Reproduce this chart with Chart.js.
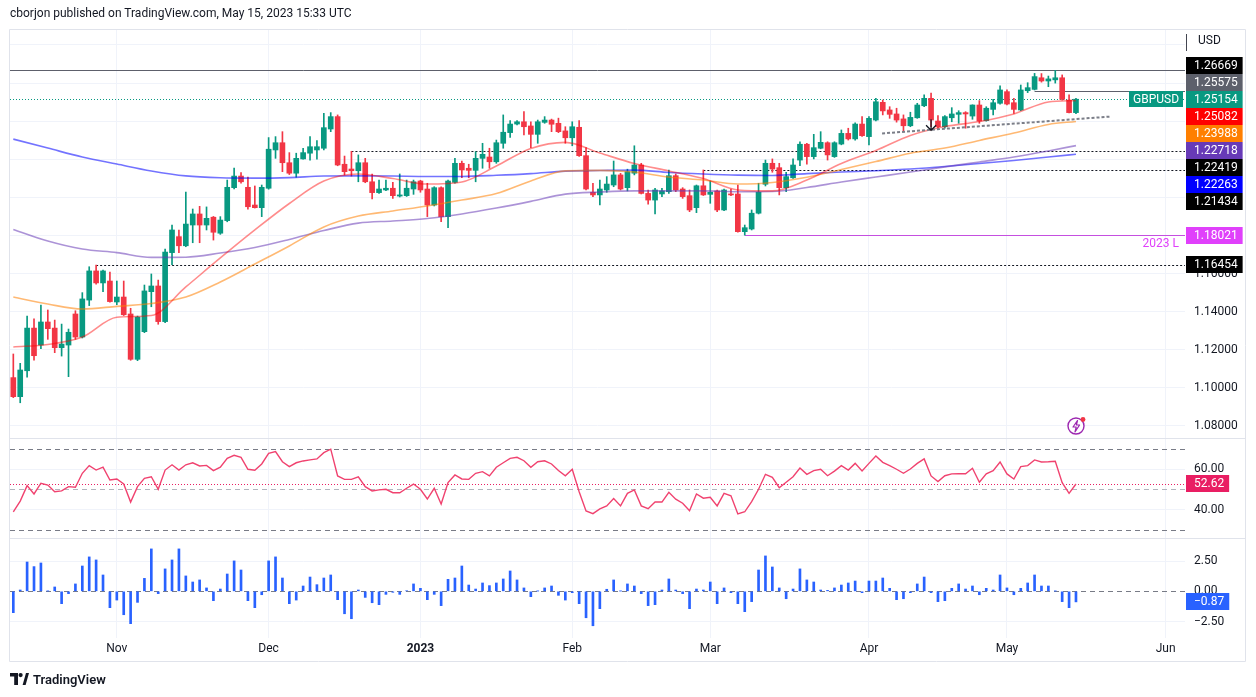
<!DOCTYPE html>
<html><head><meta charset="utf-8">
<script src="https://cdn.jsdelivr.net/npm/chart.js@4.4.1/dist/chart.umd.min.js"></script>
<style>
html,body{margin:0;padding:0;background:#fff;}
#wrap{position:relative;width:1256px;height:697px;overflow:hidden;font-family:Roboto,"Liberation Sans",Arial,sans-serif;}
#c{position:absolute;left:0;top:0;}
#hdr{position:absolute;left:10px;top:6px;font-size:12px;color:#131722;white-space:nowrap;}
#ftr{position:absolute;left:10px;top:671px;height:16px;display:flex;align-items:center;font-size:13px;font-weight:600;color:#131722;}
#ftr svg{margin-right:4px;}
#bolt{position:absolute;left:1066px;top:415px;}
</style></head><body>
<div id="wrap">
<canvas id="c" width="1256" height="697"></canvas>
<div id="hdr">cborjon published on TradingView.com, May 15, 2023 15:33 UTC</div>
<div id="ftr"><svg width="19" height="12" viewBox="0 0 19 12"><path d="M0 0H8V12H4.2V3.6H0Z" fill="#131722"/><circle cx="10.6" cy="2.1" r="2.1" fill="#131722"/><path d="M12.6 12L16 0H19L15.6 12Z" fill="#131722"/></svg>TradingView</div>
<svg id="bolt" width="22" height="22" viewBox="0 0 22 22"><circle cx="10" cy="11" r="8" fill="#fff" stroke="#9C27B0" stroke-width="1.4"/><path d="M11.5 5.5L7 12H10.2L9 16.8L13.6 10H10.4Z" fill="none" stroke="#9C27B0" stroke-width="1.2" stroke-linejoin="round"/><circle cx="17" cy="4.5" r="2.4" fill="#F23645"/></svg>
</div>
<script>
// ---------- DATA ----------
const monthLabels = ['Nov','Dec','2023','Feb','Mar','Apr','May','Jun'];
const monthIdx = [15,37,59,81,101,124,144,167];

const opens = [1.1054,1.0954,1.1090,1.1314,1.1225,1.1346,1.1314,1.1211,1.1225,1.1388,
1.1267,1.1461,1.1614,1.1551,1.1561,1.1451,1.1477,1.1388,1.1150,1.1295,
1.1505,1.1535,1.1348,1.1710,1.1794,1.1746,1.1855,1.1913,1.1855,1.1896,
1.1812,1.1878,1.2051,1.2112,1.2053,1.1960,1.1946,1.2048,1.2249,1.2287,
1.2182,1.2127,1.2202,1.2232,1.2249,1.2258,1.2359,1.2424,1.2174,1.2149,
1.2140,1.2182,1.2082,1.2025,1.2039,1.2048,1.2007,1.2009,1.2044,1.2086,
1.2044,1.1960,1.2051,1.1899,1.2079,1.2179,1.2153,1.2142,1.2205,1.2212,
1.2187,1.2284,1.2340,1.2385,1.2397,1.2375,1.2331,1.2394,1.2406,1.2389,
1.2349,1.2313,1.2368,1.2219,1.2027,1.2013,1.2039,1.2065,1.2118,1.2051,
1.2127,1.2170,1.2021,1.1986,1.2018,1.2030,1.2114,1.2044,1.2009,1.1946,
1.2061,1.2016,1.2034,1.1934,1.2018,1.2018,1.1820,1.1834,1.1917,1.2069,
1.2179,1.2156,1.2051,1.2103,1.2196,1.2279,1.2214,1.2258,1.2287,1.2214,
1.2280,1.2336,1.2307,1.2385,1.2319,1.2406,1.2499,1.2459,1.2438,1.2412,
1.2376,1.2418,1.2481,1.2520,1.2401,1.2371,1.2418,1.2436,1.2445,1.2427,
1.2485,1.2403,1.2462,1.2494,1.2555,1.2497,1.2459,1.2560,1.2567,1.2628,
1.2611,1.2617,1.2628,1.2511,1.2445];

const highs = [1.1178,1.1129,1.1377,1.1362,1.1435,1.1409,1.1356,1.1335,1.1309,1.1405,
1.1500,1.1636,1.1645,1.1619,1.1608,1.1561,1.1561,1.1418,1.1377,1.1540,
1.1598,1.1566,1.1729,1.1855,1.1829,1.2028,1.1939,1.1953,1.1950,1.1900,
1.1899,1.2091,1.2154,1.2130,1.2106,1.2060,1.2065,1.2314,1.2319,1.2345,
1.2235,1.2232,1.2258,1.2319,1.2298,1.2441,1.2445,1.2433,1.2217,1.2242,
1.2223,1.2205,1.2123,1.2091,1.2091,1.2079,1.2123,1.2091,1.2091,1.2090,
1.2074,1.2056,1.2056,1.2091,1.2205,1.2191,1.2174,1.2240,1.2284,1.2258,
1.2301,1.2433,1.2403,1.2403,1.2450,1.2397,1.2406,1.2424,1.2411,1.2416,
1.2371,1.2397,1.2403,1.2261,1.2074,1.2091,1.2109,1.2191,1.2126,1.2148,
1.2271,1.2179,1.2039,1.2048,1.2048,1.2144,1.2123,1.2051,1.2039,1.2065,
1.2144,1.2086,1.2039,1.2044,1.2044,1.2065,1.1855,1.1934,1.2074,1.2196,
1.2202,1.2179,1.2132,1.2202,1.2292,1.2284,1.2331,1.2345,1.2292,1.2292,
1.2354,1.2363,1.2392,1.2424,1.2424,1.2520,1.2511,1.2476,1.2468,1.2433,
1.2447,1.2494,1.2538,1.2547,1.2429,1.2429,1.2471,1.2455,1.2450,1.2486,
1.2508,1.2476,1.2515,1.2585,1.2564,1.2520,1.2590,1.2602,1.2651,1.2650,
1.2637,1.2667,1.2643,1.2538,1.2520];

const lows = [1.0949,1.0922,1.1056,1.1146,1.1206,1.1255,1.1185,1.1167,1.1059,1.1255,
1.1262,1.1432,1.1545,1.1505,1.1450,1.1437,1.1380,1.1145,1.1143,1.1290,
1.1426,1.1334,1.1342,1.1647,1.1710,1.1741,1.1762,1.1762,1.1829,1.1776,
1.1806,1.1872,1.2045,1.2075,1.1938,1.1944,1.1899,1.2043,1.2205,1.2135,
1.2120,1.2106,1.2200,1.2196,1.2200,1.2249,1.2345,1.2166,1.2118,1.2112,
1.2082,1.2077,1.1992,1.2021,1.2035,1.1995,1.2002,1.2005,1.2016,1.2027,
1.1899,1.1955,1.1872,1.1841,1.2075,1.2103,1.2103,1.2082,1.2153,1.2153,
1.2179,1.2258,1.2315,1.2380,1.2328,1.2261,1.2284,1.2389,1.2345,1.2340,
1.2284,1.2271,1.2215,1.2039,1.2004,1.1960,1.2027,1.2056,1.2039,1.2034,
1.2118,1.2018,1.1964,1.1913,1.2004,1.2021,1.2030,1.1995,1.1925,1.1920,
1.2010,1.1969,1.1925,1.1930,1.2009,1.1818,1.1802,1.1829,1.1913,1.2060,
1.2132,1.2013,1.2030,1.2100,1.2166,1.2175,1.2202,1.2255,1.2196,1.2210,
1.2276,1.2301,1.2301,1.2320,1.2275,1.2401,1.2433,1.2415,1.2395,1.2345,
1.2371,1.2415,1.2476,1.2371,1.2363,1.2363,1.2397,1.2389,1.2363,1.2410,
1.2389,1.2400,1.2433,1.2490,1.2485,1.2441,1.2455,1.2550,1.2564,1.2605,
1.2581,1.2600,1.2511,1.2443,1.2440];

const closes = [1.0954,1.1094,1.1314,1.1169,1.1346,1.1311,1.1211,1.1230,1.1292,1.1267,
1.1467,1.1614,1.1551,1.1614,1.1453,1.1477,1.1384,1.1150,1.1372,1.1509,
1.1535,1.1348,1.1713,1.1829,1.1746,1.1860,1.1913,1.1855,1.1890,1.1817,
1.1881,1.2053,1.2112,1.2082,1.1951,1.1946,1.2053,1.2253,1.2287,1.2182,
1.2127,1.2205,1.2235,1.2266,1.2266,1.2366,1.2424,1.2170,1.2135,1.2140,
1.2182,1.2082,1.2025,1.2044,1.2048,1.2009,1.2013,1.2048,1.2082,1.2039,
1.1960,1.2051,1.1899,1.2086,1.2179,1.2144,1.2142,1.2205,1.2226,1.2187,
1.2287,1.2342,1.2385,1.2397,1.2371,1.2331,1.2397,1.2406,1.2384,1.2345,
1.2313,1.2371,1.2219,1.2044,1.2013,1.2044,1.2070,1.2118,1.2044,1.2135,
1.2170,1.2021,1.1986,1.2039,1.2034,1.2114,1.2039,1.2004,1.1934,1.2061,
1.2013,1.2027,1.1934,1.2039,1.2013,1.1820,1.1841,1.1917,1.2027,1.2179,
1.2149,1.2051,1.2109,1.2170,1.2279,1.2214,1.2261,1.2289,1.2223,1.2287,
1.2336,1.2307,1.2385,1.2324,1.2415,1.2502,1.2454,1.2436,1.2406,1.2376,
1.2420,1.2485,1.2520,1.2406,1.2371,1.2424,1.2438,1.2445,1.2438,1.2485,
1.2401,1.2468,1.2497,1.2564,1.2490,1.2462,1.2564,1.2576,1.2634,1.2611,
1.2622,1.2628,1.2515,1.2445,1.25154];

// moving averages read at every 5th bar (and the last bar)
const maIdx = [0,5,10,15,20,25,30,35,40,45,50,55,60,65,70,75,80,85,90,95,100,105,110,115,120,125,130,135,140,145,150,154];
const ema20 = [1.1215,1.1228,1.1267,1.1371,1.1380,1.1530,1.1682,1.1829,1.1968,1.2086,1.2123,1.2099,1.2070,1.2081,1.2165,1.2257,1.2289,1.2233,1.2178,1.2139,1.2099,1.2039,1.2034,1.2091,1.2178,1.2246,1.2325,1.2372,1.2398,1.2438,1.2501,1.25082];
const ema50 = [1.1477,1.1440,1.1414,1.1428,1.1443,1.1477,1.1556,1.1650,1.1745,1.1845,1.1902,1.1929,1.1955,1.1986,1.2020,1.2086,1.2139,1.2142,1.2133,1.2107,1.2091,1.2070,1.2078,1.2106,1.2146,1.2188,1.2232,1.2259,1.2299,1.2338,1.2383,1.23988];
const ma100 = [1.1832,1.1771,1.1729,1.1710,1.1685,1.1686,1.1708,1.1737,1.1779,1.1826,1.1865,1.1876,1.1889,1.1913,1.1944,1.1979,1.2017,1.2028,1.2034,1.2034,1.2034,1.2030,1.2031,1.2052,1.2081,1.2107,1.2133,1.2160,1.2186,1.2212,1.2244,1.22718];
const ma200 = [1.2306,1.2259,1.2212,1.2175,1.2139,1.2113,1.2103,1.2101,1.2104,1.2112,1.2113,1.2112,1.2110,1.2110,1.2116,1.2125,1.2138,1.2141,1.2143,1.2131,1.2123,1.2117,1.2115,1.2125,1.2133,1.2140,1.2149,1.2162,1.2178,1.2194,1.2212,1.22263];

const rsi = [38.9,44.2,51.8,47.7,53.0,52.1,48.8,49.2,51.3,51.0,
57.9,61.7,59.5,60.9,54.6,55.1,52.6,43.7,51.3,55.4,
56.2,50.0,59.5,62.1,59.5,62.1,63.1,61.5,61.8,59.2,
60.9,65.3,66.8,65.8,59.9,59.4,62.5,67.8,68.6,63.6,
61.2,63.1,64.0,64.5,65.0,68.1,69.8,56.6,54.9,54.9,
56.2,51.3,49.2,49.7,50.0,48.3,48.3,50.5,52.6,50.0,
45.2,50.5,42.7,53.3,57.1,55.1,54.9,57.9,58.7,56.6,
60.9,63.1,65.3,65.8,64.1,60.9,63.6,64.1,62.5,59.3,
56.7,59.9,48.8,39.3,38.0,40.3,41.8,45.4,41.8,48.0,
49.7,41.8,40.4,43.7,43.7,48.5,45.1,43.1,39.4,47.7,
45.6,46.1,41.8,48.0,46.8,37.8,38.9,43.9,50.0,57.4,
55.9,50.8,53.5,56.2,60.5,57.4,59.2,59.9,56.7,59.0,
61.7,59.5,62.8,59.0,62.8,66.4,63.3,61.7,59.9,57.9,
60.0,62.8,65.0,56.6,53.8,56.7,57.6,57.7,57.7,60.4,
53.5,57.6,59.2,63.5,57.6,55.1,61.2,61.7,64.5,63.5,
63.6,63.8,53.3,48.0,52.62];

const hist = [-1.76,0.11,2.42,2.04,2.34,0.02,0.36,-1.02,-0.19,0.61,
2.09,2.84,2.59,1.35,-1.35,-0.72,-1.93,-2.67,-0.91,1.07,
3.50,-0.19,1.85,2.59,3.50,1.27,0.77,0.94,0.28,-0.77,
0.19,1.43,2.51,1.76,-0.77,-1.35,-0.28,2.51,2.84,1.10,
-1.02,-0.72,0.44,1.18,0.55,1.10,1.35,-0.69,-1.85,-2.26,
0.11,-0.50,-0.94,-1.10,-0.25,-0.08,-0.25,0.05,0.61,0.25,
-0.69,-0.25,-1.18,0.99,1.10,2.09,0.52,0.19,0.69,0.47,
0.69,1.02,1.68,0.94,0.28,-0.44,0.02,0.28,0.44,-0.33,
-0.72,-0.11,-1.02,-2.18,-2.84,-1.43,0.17,0.94,0.02,0.61,
0.44,-0.19,-1.18,-1.10,0.11,1.02,0.11,-0.19,-1.43,0.19,
0.11,0.77,-1.02,0.28,-0.11,-1.02,-1.68,-0.85,1.76,2.92,
2.01,0.28,-0.61,0.19,1.85,0.94,0.77,0.11,0.08,0.28,
0.52,0.69,0.85,-0.11,0.85,0.85,1.10,0.25,-0.69,-0.61,
-0.11,0.61,1.18,-0.11,-0.85,-0.77,0.25,0.61,0.19,0.44,
-0.28,0.25,0.11,1.35,0.28,-0.28,0.25,0.69,1.35,0.44,
0.44,0.02,-0.85,-1.35,-0.87];

const priceTicks = [1.08,1.10,1.12,1.14,1.16,1.18,1.20,1.22,1.24,1.26,1.28];
const rsiTicks = [40,60];
const histTicks = [-2.5,0,2.5];
const rsiBands = [70,50,30];

// horizontal levels drawn on the chart, and the bar index where each begins
const levelValues = [1.26669,1.25575,1.22419,1.21434,1.18021,1.16454];
const levelFrom = [-1,148,49,100,106,12];
// support trendline (bar index, price)
const trendIdx = [125.9,158.9];
const trendPrice = [1.2336,1.2424];
const arrowIdx = 133;

// ---------- CHART ----------
const FONT = "Roboto, 'Liberation Sans', Arial, sans-serif";
Chart.defaults.font.family = FONT;
Chart.defaults.font.size = 12;
Chart.defaults.color = '#131722';

const UP = '#089981', DN = '#F23645';
const bars = closes.map((c,i)=>i);
const candleColors = bars.map(i => closes[i] >= opens[i] ? UP : DN);
const GRID = '#F0F3FA';

function hline(ctx,x0,x1,y,color,dash,w){
  ctx.beginPath(); ctx.setLineDash(dash); ctx.strokeStyle=color; ctx.lineWidth=w||1;
  const yy=Math.round(y)+0.5; ctx.moveTo(x0,yy); ctx.lineTo(x1,yy); ctx.stroke();
}
function tag(ctx,left,y,text,bg){
  ctx.font='12px '+FONT;
  const tw=ctx.measureText(text).width;
  const top=Math.round(y-8.5);
  ctx.fillStyle=bg; ctx.fillRect(left+1, top, 8+tw+5, 17);
  ctx.fillStyle='#fff'; ctx.textAlign='left'; ctx.textBaseline='middle';
  ctx.fillText(text, left+9, top+9);
}

const overlay = {
  id:'overlay',
  beforeDatasetsDraw(chart){
    const {ctx, chartArea:ca, scales:{x, yPrice:yp, yRsi:yr, yHist:yh}} = chart;
    ctx.save();
    const styles = [['#5D606B',[]],['#5D606B',[]],['#131722',[2,2]],['#131722',[2,2]],['#C54FE0',[]],['#131722',[2,2]]];
    levelValues.forEach((v,k)=>{
      const x0 = Math.max(ca.left, x.getPixelForValue(levelFrom[k]));
      hline(ctx,x0,ca.right,yp.getPixelForValue(v),styles[k][0],styles[k][1],1);
    });
    // last price line
    hline(ctx,ca.left,ca.right,yp.getPixelForValue(closes[closes.length-1]),UP,[1,2],1);
    // RSI bands
    rsiBands.forEach(v=>{
      hline(ctx,ca.left,ca.right,yr.getPixelForValue(v), v===50?'#B2B5BE':'#787B86',[5,4],1);
    });
    hline(ctx,ca.left,ca.right,yr.getPixelForValue(rsi[rsi.length-1]),'#E91E63',[1,2],1);
    // histogram zero line
    hline(ctx,ca.left,ca.right,yh.getPixelForValue(0),'#787B86',[5,4],1);
    ctx.restore();
  },
  afterDatasetsDraw(chart){
    const {ctx, scales:{x, yPrice:yp}} = chart;
    ctx.save();
    // trendline
    ctx.beginPath(); ctx.setLineDash([3,2]); ctx.strokeStyle='#7B7E88'; ctx.lineWidth=2;
    ctx.moveTo(x.getPixelForValue(trendIdx[0]), yp.getPixelForValue(trendPrice[0]));
    ctx.lineTo(x.getPixelForValue(trendIdx[1]), yp.getPixelForValue(trendPrice[1]));
    ctx.stroke();
    // arrow
    const ax = x.getPixelForValue(arrowIdx), ay = yp.getPixelForValue(lows[arrowIdx]) + 3.5;
    ctx.setLineDash([]); ctx.strokeStyle='#131722'; ctx.lineWidth=1.3;
    ctx.beginPath(); ctx.moveTo(ax,ay-11); ctx.lineTo(ax,ay);
    ctx.moveTo(ax-5,ay-5); ctx.lineTo(ax,ay); ctx.lineTo(ax+5,ay-5); ctx.stroke();
    ctx.restore();
  },
  afterDraw(chart){
    const {ctx, chartArea:ca, scales:{yPrice:yp, yRsi:yr, yHist:yh}} = chart;
    ctx.save();
    ctx.setLineDash([]);
    // pane separators + frame
    ctx.strokeStyle='#E0E3EB'; ctx.lineWidth=1;
    ctx.beginPath();
    [yr.top, yh.top].forEach(y=>{ const yy=Math.round(y)+0.5; ctx.moveTo(ca.left,yy); ctx.lineTo(1246,yy); });
    ctx.moveTo(ca.left-0.5,29.5); ctx.lineTo(1245.5,29.5); ctx.lineTo(1245.5,661.5); ctx.lineTo(ca.left-0.5,661.5); ctx.closePath();
    ctx.stroke();
    // USD header
    ctx.fillStyle='#131722'; ctx.font='12px '+FONT; ctx.textAlign='left'; ctx.textBaseline='middle';
    ctx.fillText('USD', yp.left+13, 41);
    ctx.strokeStyle='#434651'; ctx.beginPath(); ctx.moveTo(yp.left+1.5,34); ctx.lineTo(yp.left+1.5,51); ctx.stroke();
    // price tags with collision layout (anchored on last price)
    const last = closes[closes.length-1];
    const tags = [
      {v:levelValues[0], bg:'#000000'},
      {v:levelValues[1], bg:'#5D606B'},
      {v:last, bg:UP, anchor:true},
      {v:ema20[ema20.length-1], bg:'#FF0000'},
      {v:ema50[ema50.length-1], bg:'#FF7F00'},
      {v:ma100[ma100.length-1], bg:'#673AB7'},
      {v:levelValues[2], bg:'#000000'},
      {v:ma200[ma200.length-1], bg:'#0000FF'},
      {v:levelValues[3], bg:'#000000'},
      {v:levelValues[4], bg:'#E040FB'},
      {v:levelValues[5], bg:'#000000'}
    ];
    tags.forEach(t=>t.y=yp.getPixelForValue(t.v));
    tags.sort((a,b)=>a.y-b.y);
    const a = tags.findIndex(t=>t.anchor), H=17.1;
    for(let i=a-1;i>=0;i--) tags[i].y = Math.min(tags[i].y, tags[i+1].y-H);
    for(let i=a+1;i<tags.length;i++) tags[i].y = Math.max(tags[i].y, tags[i-1].y+H);
    tags.forEach(t=>tag(ctx, yp.left, t.y, t.v.toFixed(5), t.bg));
    // symbol tag
    const ya = tags[a].y;
    ctx.font='12px '+FONT;
    const sw = ctx.measureText('GBPUSD').width;
    ctx.fillStyle=UP; ctx.fillRect(yp.left-2-sw-8, Math.round(ya-8.5), sw+8, 16);
    ctx.fillStyle='#fff'; ctx.textAlign='left'; ctx.textBaseline='middle';
    ctx.fillText('GBPUSD', yp.left-2-sw-4, Math.round(ya-8.5)+8.5);
    // 2023 L
    ctx.fillStyle='#E040FB'; ctx.textAlign='right';
    ctx.fillText('2023 L', yp.left-6, yp.getPixelForValue(levelValues[4])+9);
    // RSI and histogram tags
    tag(ctx, yr.left, yr.getPixelForValue(rsi[rsi.length-1]), rsi[rsi.length-1].toFixed(2), '#E91E63');
    const hv = hist[hist.length-1];
    tag(ctx, yh.left, yh.getPixelForValue(hv), (hv<0?'\u2212':'')+Math.abs(hv).toFixed(2), '#2962FF');
    ctx.restore();
  }
};

function yAxis(extra){
  return Object.assign({
    type:'linear', position:'right', stack:'panes',
    grid:{color:GRID, drawTicks:false}, border:{display:false},
    ticks:{padding:9, color:'#131722', font:{size:12}},
    afterFit(s){ s.width = 71; }
  }, extra);
}

new Chart(document.getElementById('c'), {
  data:{
    datasets:[
      {type:'line', label:'EMA20', data:maIdx.map((v,k)=>({x:v,y:ema20[k]})), yAxisID:'yPrice', borderColor:'rgba(255,0,0,0.45)', borderWidth:1.6, pointRadius:0, cubicInterpolationMode:'monotone', order:1},
      {type:'line', label:'EMA50', data:maIdx.map((v,k)=>({x:v,y:ema50[k]})), yAxisID:'yPrice', borderColor:'rgba(255,128,0,0.55)', borderWidth:1.6, pointRadius:0, cubicInterpolationMode:'monotone', order:2},
      {type:'line', label:'MA100', data:maIdx.map((v,k)=>({x:v,y:ma100[k]})), yAxisID:'yPrice', borderColor:'rgba(103,58,183,0.55)', borderWidth:1.6, pointRadius:0, cubicInterpolationMode:'monotone', order:3},
      {type:'line', label:'MA200', data:maIdx.map((v,k)=>({x:v,y:ma200[k]})), yAxisID:'yPrice', borderColor:'rgba(0,0,255,0.55)', borderWidth:1.6, pointRadius:0, cubicInterpolationMode:'monotone', order:4},
      {type:'bar', label:'body', data:bars.map(i=>({x:i,y:[opens[i],closes[i]]})), yAxisID:'yPrice', backgroundColor:candleColors, barThickness:5, grouped:false, minBarLength:1, order:5},
      {type:'bar', label:'wick', data:bars.map(i=>({x:i,y:[lows[i],highs[i]]})), yAxisID:'yPrice', backgroundColor:candleColors, barThickness:1, grouped:false, order:6},
      {type:'line', label:'RSI', data:bars.map(i=>({x:i,y:rsi[i]})), yAxisID:'yRsi', borderColor:'#F0426F', borderWidth:1.4, pointRadius:0, tension:0, order:7},
      {type:'bar', label:'Hist', data:bars.map(i=>({x:i,y:hist[i]})), yAxisID:'yHist', backgroundColor:'#2962FF', barThickness:2, grouped:false, order:8}
    ]
  },
  options:{
    responsive:false, animation:false, devicePixelRatio:1,
    layout:{padding:{left:10,right:0,top:30,bottom:35}},
    plugins:{legend:{display:false}, tooltip:{enabled:false}},
    scales:{
      x:{type:'linear', position:'bottom', min:-0.48, max:169.8, offset:false, bounds:'ticks',
        afterBuildTicks(s){ s.ticks = monthIdx.map(v=>({value:v})); },
        ticks:{autoSkip:false, maxRotation:0, padding:4, color:'#131722',
          font:(c)=>({size:12, weight:(c.tick && c.tick.value===59)?'bold':'normal'}),
          callback:(v)=>monthLabels[monthIdx.indexOf(v)]},
        grid:{color:GRID, drawTicks:false, offset:false}, border:{display:false},
        afterFit(s){ s.height = 24; }
      },
      yPrice:yAxis({stackWeight:408, weight:1, min:1.0737, max:1.28787,
        afterBuildTicks(s){ s.ticks = priceTicks.map(v=>({value:v})); },
        ticks:{padding:9, color:'#131722', font:{size:12}, callback:(v)=> v>1.275 ? '' : v.toFixed(5)}}),
      yRsi:yAxis({stackWeight:100, weight:2, min:25.95, max:75.33,
        afterBuildTicks(s){ s.ticks = rsiTicks.map(v=>({value:v})); },
        ticks:{padding:9, color:'#131722', font:{size:12}, callback:(v)=>v.toFixed(2)}}),
      yHist:yAxis({stackWeight:100, weight:3, min:-3.85, max:4.40,
        afterBuildTicks(s){ s.ticks = histTicks.map(v=>({value:v})); },
        grid:{color:(c)=> (c.tick && c.tick.value===0) ? 'rgba(0,0,0,0)' : GRID, drawTicks:false},
        ticks:{padding:9, color:'#131722', font:{size:12}, callback:(v)=> v===0 ? '0.00' : (v<0?'\u2212':'')+Math.abs(v).toFixed(2)}})
    }
  },
  plugins:[overlay]
});
</script>
</body></html>
